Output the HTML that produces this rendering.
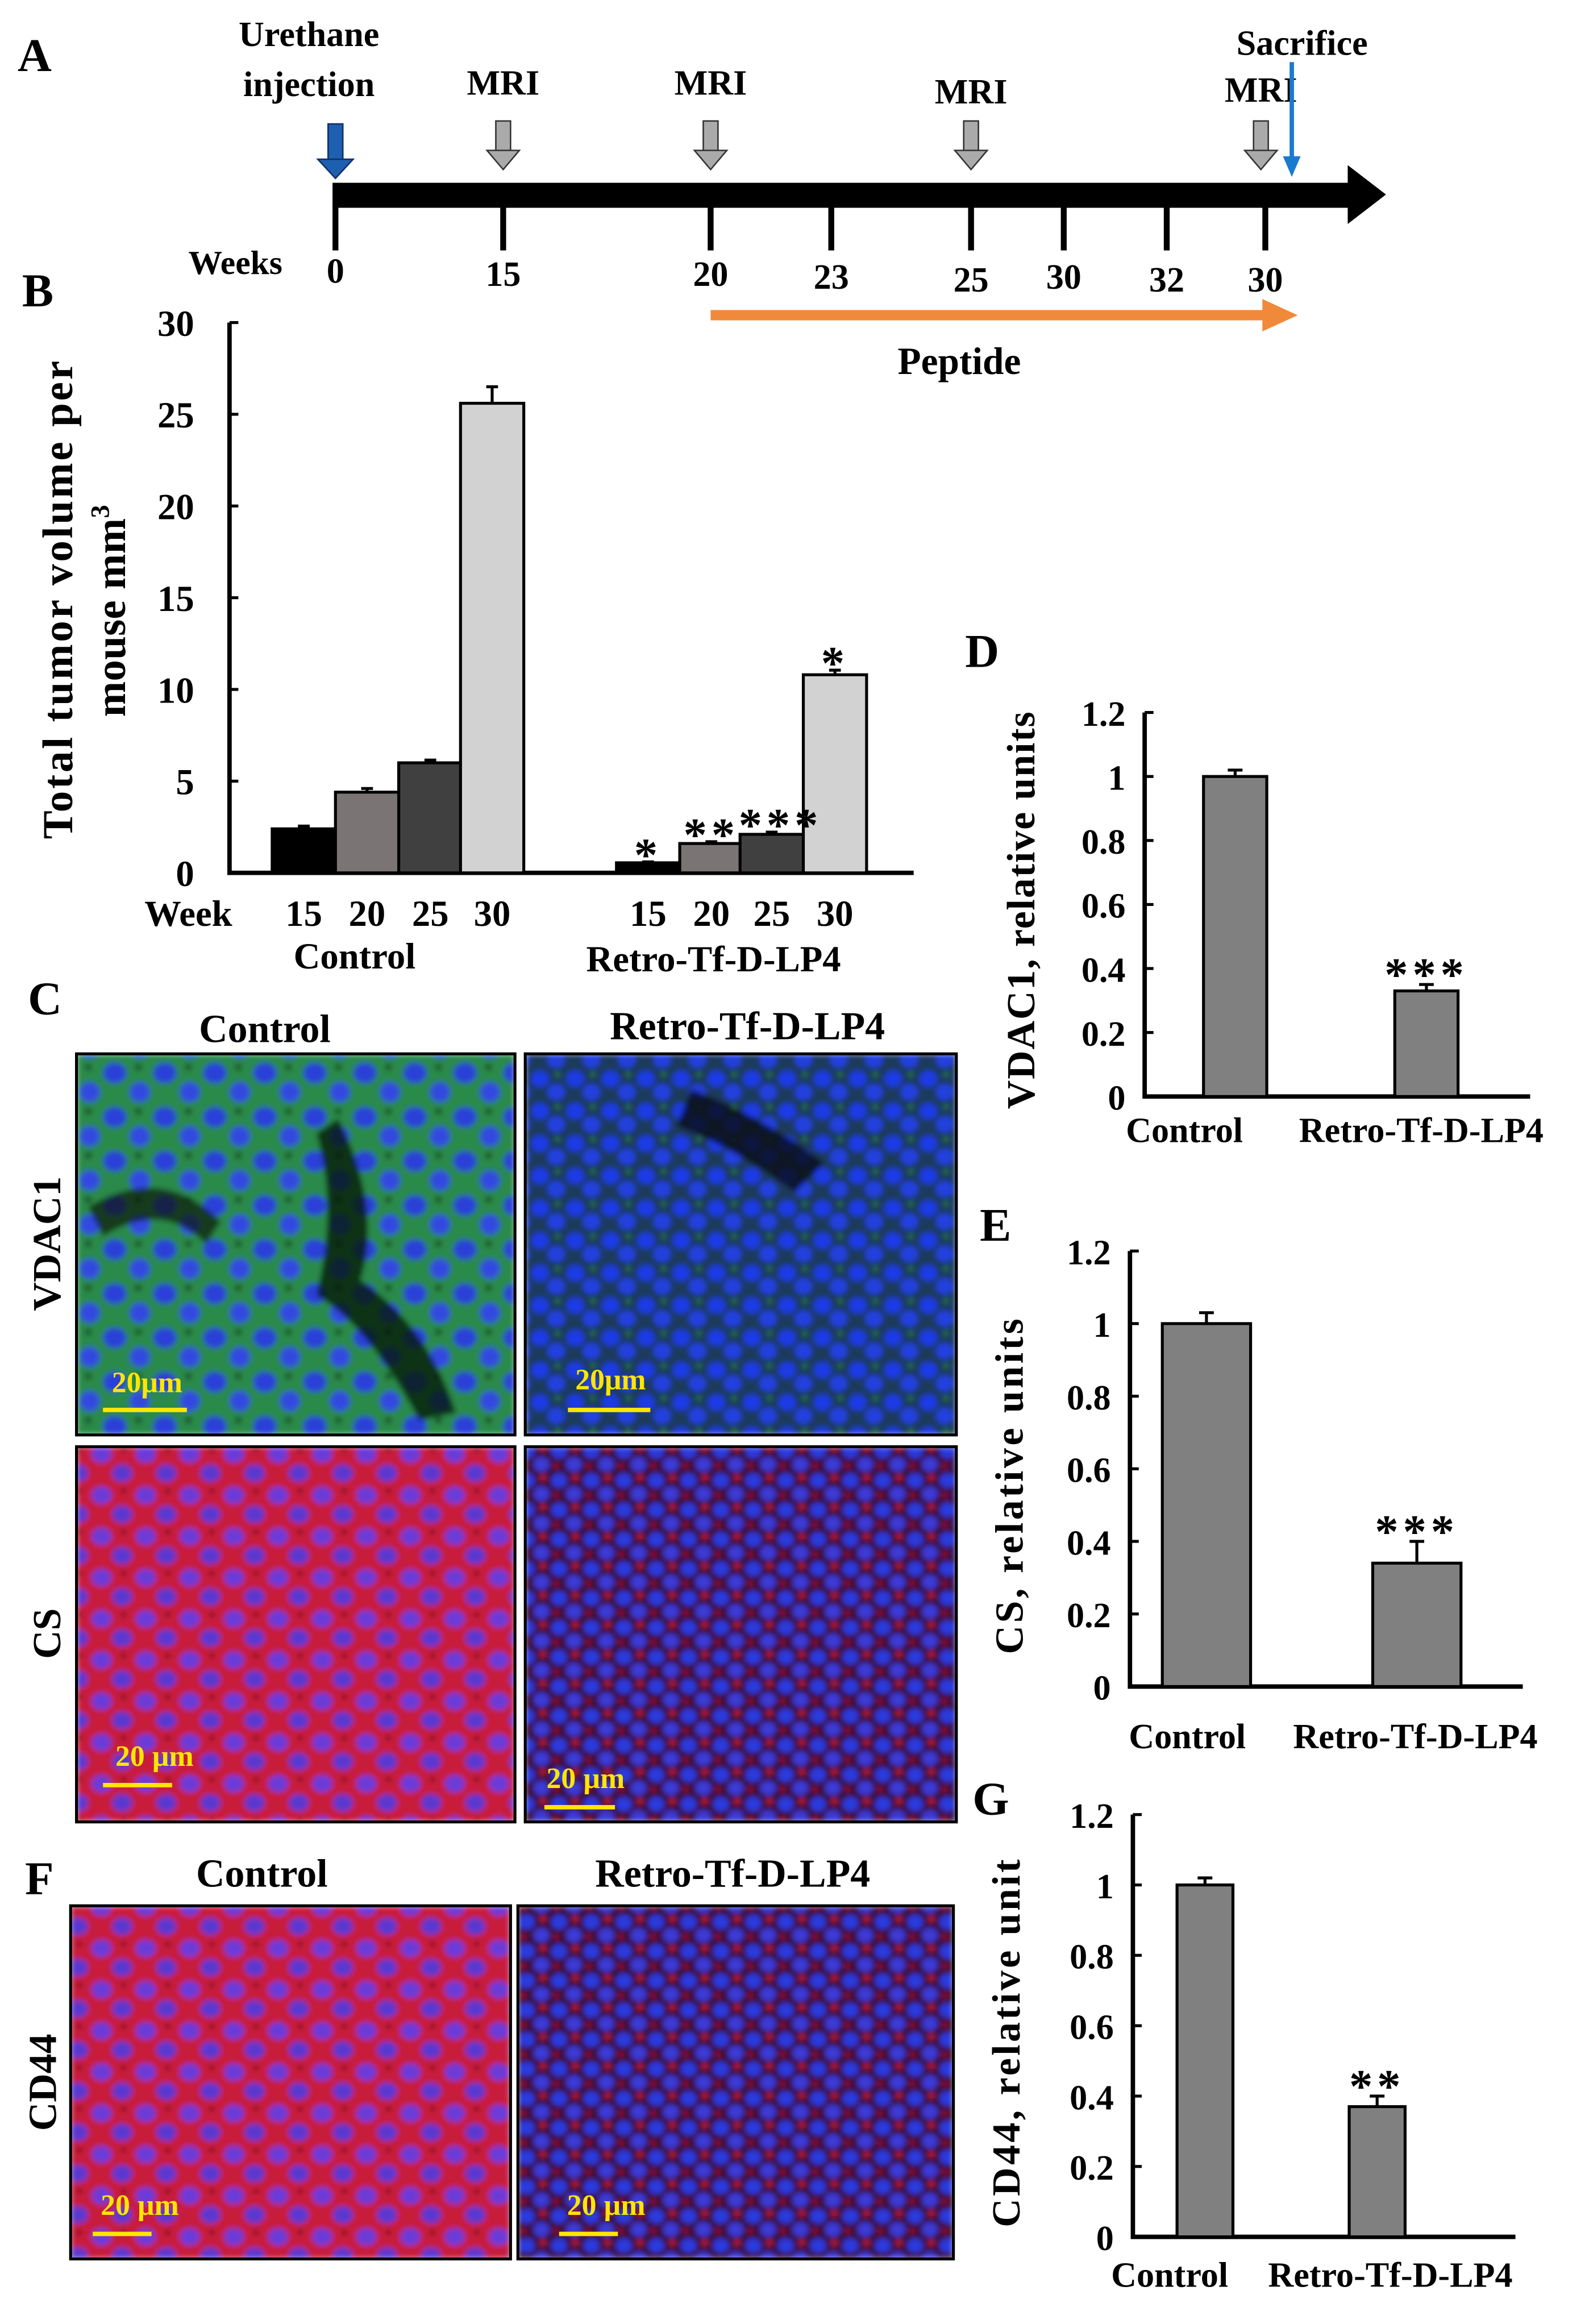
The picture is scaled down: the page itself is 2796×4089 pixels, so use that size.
<!DOCTYPE html>
<html><head><meta charset="utf-8">
<style>
html,body{margin:0;padding:0;background:#fff;}
svg{display:block;}
text{font-family:"Liberation Serif",serif;font-weight:bold;fill:#000;}
</style></head>
<body>
<svg id="fig" width="2796" height="4089" viewBox="0 0 1080 1579" xmlns="http://www.w3.org/2000/svg">
<defs>
<filter id="soft" x="0" y="0" width="1" height="1"><feGaussianBlur stdDeviation="1.8"/></filter>
<pattern id="pGreen" width="34" height="30" patternUnits="userSpaceOnUse">
<rect width="34" height="30" fill="#2a8a4a"/>
<ellipse cx="10" cy="9" rx="8" ry="7" fill="#2a3fd8"/>
<ellipse cx="27" cy="22" rx="7" ry="7" fill="#3048e0"/>
<circle cx="26" cy="5" r="2" fill="#0a2a10"/>
</pattern>
<pattern id="pBlue" width="24" height="22" patternUnits="userSpaceOnUse">
<rect width="24" height="22" fill="#1a3a5a"/>
<ellipse cx="7" cy="7" rx="6" ry="5.5" fill="#1f3be8"/>
<ellipse cx="18" cy="16" rx="6" ry="5.5" fill="#2340e0"/>
<circle cx="19" cy="4" r="1.5" fill="#2a8a3a"/>
</pattern>
<pattern id="pRed" width="30" height="28" patternUnits="userSpaceOnUse">
<rect width="30" height="28" fill="#c81a3a"/>
<ellipse cx="9" cy="8" rx="7" ry="6" fill="#6a3ad8"/>
<ellipse cx="23" cy="21" rx="7" ry="6" fill="#5a38d0"/>
<circle cx="24" cy="5" r="1.5" fill="#300"/>
</pattern>
<pattern id="pRedBlue" width="22" height="20" patternUnits="userSpaceOnUse">
<rect width="22" height="20" fill="#3a0a30"/>
<ellipse cx="6" cy="6" rx="5.5" ry="5" fill="#2a3ae0"/>
<ellipse cx="16" cy="15" rx="5.5" ry="5" fill="#3a3ad8"/>
<circle cx="17" cy="4" r="2" fill="#d01a40"/>
<circle cx="4" cy="16" r="1.5" fill="#c0103a"/>
</pattern>
</defs>

<!-- Panel A -->
<g>
<text x="12" y="48" font-size="32">A</text>
<rect x="226" y="124" width="692" height="17" fill="#000"/>
<polygon points="916,112 942,132 916,152" fill="#000"/>
<text x="160" y="186" font-size="23" text-anchor="middle">Weeks</text>
<g id="timeTicks"></g>
<text x="210" y="31" font-size="24" text-anchor="middle">Urethane</text>
<text x="210" y="65" font-size="24" text-anchor="middle">injection</text>
<g>
<rect x="223" y="84" width="10" height="26" fill="#1f5fb0" stroke="#10306a" stroke-width="1"/>
<polygon points="216,108 240,108 228,121" fill="#1f5fb0" stroke="#10306a" stroke-width="1"/>
</g>
<g id="mriArrows"></g>
<text x="885" y="37" font-size="24" text-anchor="middle">Sacrifice</text>
<line x1="878" y1="42" x2="878" y2="108" stroke="#1a7ad0" stroke-width="3"/>
<polygon points="872,106 884,106 878,120" fill="#1a7ad0"/>
<line x1="483" y1="214" x2="862" y2="214" stroke="#f08a3a" stroke-width="7"/>
<polygon points="858,203 882,214 858,225" fill="#f08a3a"/>
<text x="652" y="254" font-size="26" text-anchor="middle">Peptide</text>
</g>

<!-- Panel B -->
<text x="15" y="208" font-size="32">B</text>
<g id="chartB"></g>

<!-- Panel D / E / G -->
<text x="656" y="453" font-size="32">D</text>
<g id="chartD"></g>
<text x="666" y="843" font-size="32">E</text>
<g id="chartE"></g>
<text x="661" y="1233" font-size="32">G</text>
<g id="chartG"></g>

<!-- Panel C -->
<text x="19" y="689" font-size="32">C</text>
<text x="180" y="708" font-size="27" text-anchor="middle">Control</text>
<text x="508" y="706" font-size="27" text-anchor="middle">Retro-Tf-D-LP4</text>
<text transform="translate(41,845) rotate(-90)" font-size="27" text-anchor="middle">VDAC1</text>
<text transform="translate(41,1110) rotate(-90)" font-size="27" text-anchor="middle">CS</text>
<g>
<g filter="url(#soft)">
<rect x="52" y="716" width="298" height="259" fill="url(#pGreen)"/>
<path d="M230,760 Q260,820 245,870 Q290,900 310,960 L285,965 Q250,900 215,880 Q230,820 215,770Z" fill="#0a1a0a" opacity="0.8"/>
<path d="M60,820 Q110,790 150,830 L140,845 Q110,815 70,840Z" fill="#0a1a0a" opacity="0.7"/>
</g>
<rect x="52" y="716" width="298" height="259" fill="none" stroke="#000" stroke-width="2"/>
<line x1="70" y1="958" x2="127" y2="958" stroke="#ffe600" stroke-width="3"/>
<text x="100" y="946" font-size="20" style="fill:#ffe600" text-anchor="middle">20μm</text>
</g>
<g>
<g filter="url(#soft)">
<rect x="357" y="716" width="293" height="259" fill="url(#pBlue)"/>
<path d="M470,740 Q520,760 560,790 L540,810 Q500,780 460,765Z" fill="#050a15" opacity="0.8"/>
</g>
<rect x="357" y="716" width="293" height="259" fill="none" stroke="#000" stroke-width="2"/>
<line x1="386" y1="958" x2="442" y2="958" stroke="#ffe600" stroke-width="3"/>
<text x="415" y="944" font-size="20" style="fill:#ffe600" text-anchor="middle">20μm</text>
</g>
<g>
<rect x="52" y="983" width="298" height="255" fill="url(#pRed)" filter="url(#soft)"/>
<rect x="52" y="983" width="298" height="255" fill="none" stroke="#000" stroke-width="2"/>
<line x1="70" y1="1213" x2="117" y2="1213" stroke="#ffe600" stroke-width="3"/>
<text x="105" y="1200" font-size="20" style="fill:#ffe600" text-anchor="middle">20 µm</text>
</g>
<g>
<rect x="357" y="983" width="293" height="255" fill="url(#pRedBlue)" filter="url(#soft)"/>
<rect x="357" y="983" width="293" height="255" fill="none" stroke="#000" stroke-width="2"/>
<line x1="370" y1="1228" x2="418" y2="1228" stroke="#ffe600" stroke-width="3"/>
<text x="398" y="1215" font-size="20" style="fill:#ffe600" text-anchor="middle">20 µm</text>
</g>

<!-- Panel F -->
<text x="17" y="1287" font-size="32">F</text>
<text x="178" y="1282" font-size="27" text-anchor="middle">Control</text>
<text x="498" y="1282" font-size="27" text-anchor="middle">Retro-Tf-D-LP4</text>
<text transform="translate(38,1415) rotate(-90)" font-size="27" text-anchor="middle">CD44</text>
<g>
<rect x="48" y="1295" width="299" height="240" fill="url(#pRed)" filter="url(#soft)"/>
<rect x="48" y="1295" width="299" height="240" fill="none" stroke="#000" stroke-width="2"/>
<line x1="63" y1="1518" x2="103" y2="1518" stroke="#ffe600" stroke-width="3"/>
<text x="95" y="1505" font-size="20" style="fill:#ffe600" text-anchor="middle">20 µm</text>
</g>
<g>
<rect x="352" y="1295" width="296" height="240" fill="url(#pRedBlue)" filter="url(#soft)"/>
<rect x="352" y="1295" width="296" height="240" fill="none" stroke="#000" stroke-width="2"/>
<line x1="380" y1="1518" x2="420" y2="1518" stroke="#ffe600" stroke-width="3"/>
<text x="412" y="1505" font-size="20" style="fill:#ffe600" text-anchor="middle">20 µm</text>
</g>
</svg>

<script>
const NS = "http://www.w3.org/2000/svg";
// Timeline data
const tickWeeks = ["0","15","20","23","25","30","32","30"];
const tickPos = [228,342,483,565,660,723,793,860];
const tickLabelY = [192,194,194,196,198,196,198,198];
const mriLabels = ["MRI","MRI","MRI","MRI"];
const mriIndex = [1,2,4,7];

// Panel B data
const bWeeks = ["15","20","25","30"];
const bControl = [2.4, 4.4, 6.0, 25.6];
const bControlErr = [0.15, 0.2, 0.15, 0.9];
const bRetro = [0.55, 1.6, 2.1, 10.8];
const bRetroErr = [0.05, 0.1, 0.12, 0.25];
const bStars = ["*","**","***","*"];
const bTicks = [0,5,10,15,20,25,30];

// Panels D, E, G data
const dValues = [1.0, 0.33];
const dErr = [0.02, 0.02];
const eValues = [1.0, 0.34];
const eErr = [0.03, 0.06];
const gValues = [1.0, 0.37];
const gErr = [0.02, 0.03];
const relTicks = [0,0.2,0.4,0.6,0.8,1,1.2];
const relCats = ["Control","Retro-Tf-D-LP4"];

function mk(parent, tag, attrs, txt){
  const e = document.createElementNS(NS, tag);
  for (const k in attrs) e.setAttribute(k, attrs[k]);
  if (txt !== undefined) e.textContent = txt;
  parent.appendChild(e);
  return e;
}

// timeline ticks
const tt = document.getElementById("timeTicks");
tickWeeks.forEach((w,i)=>{
  const l = mk(tt,"line",{x1:tickPos[i],y1:140,x2:tickPos[i],y2:170,stroke:"#000","stroke-width":4});
  
  
  const t = mk(tt,"text",{x:tickPos[i],y:tickLabelY[i],"font-size":24,"text-anchor":"middle"}, w);
  
  
});
const ma = document.getElementById("mriArrows");
const mriLabelY = [64,64,70,69];
mriIndex.forEach((ix,i)=>{
  const x = tickPos[ix] - (ix===7?3:0);
  const g = mk(ma,"g",{});
  
  
  mk(g,"rect",{x:x-5,y:82,width:10,height:22,fill:"#aaa",stroke:"#333","stroke-width":1});
  mk(g,"polygon",{points:`${x-11},102 ${x+11},102 ${x},115`,fill:"#aaa",stroke:"#333","stroke-width":1});
  const t = mk(ma,"text",{x:x,y:mriLabelY[i],"font-size":24,"text-anchor":"middle"}, mriLabels[i]);
  
  
});

// Chart B
(function(){
  const g = document.getElementById("chartB");
  const x0 = 156, y0 = 593, yTop = 219, vmax = 30;
  const ys = v => y0 - v/vmax*(y0-yTop);
  const bw = 43;
  const ctrlX = [185,228,271,313];
  const retroX = [419,462,503,546];
  const fills = ["#000","#7a7574","#404040","#d2d2d2"];
  const ax = mk(g,"path",{d:`M${x0} ${yTop} V${y0} H621`,stroke:"#000","stroke-width":3,fill:"none"});
  
  
  bTicks.forEach(v=>{
    mk(g,"line",{x1:x0,y1:ys(v),x2:x0+6,y2:ys(v),stroke:"#000","stroke-width":2});
    const t = mk(g,"text",{x:132,y:ys(v)+9,"font-size":25,"text-anchor":"end"}, v);
    
    
  });
  function bars(xs, vals, errs, group){
    vals.forEach((v,i)=>{
      const x = xs[i];
      mk(g,"line",{x1:x+bw/2,y1:ys(v),x2:x+bw/2,y2:ys(v+errs[i]),stroke:"#000","stroke-width":2});
      mk(g,"line",{x1:x+bw/2-4,y1:ys(v+errs[i]),x2:x+bw/2+4,y2:ys(v+errs[i]),stroke:"#000","stroke-width":2});
      const r = mk(g,"rect",{x:x,y:ys(v),width:bw,height:y0-ys(v),fill:fills[i],stroke:"#000","stroke-width":2});
      
      
      const t = mk(g,"text",{x:x+bw/2,y:629,"font-size":25,"text-anchor":"middle"}, bWeeks[i]);
      
      
    });
  }
  bars(ctrlX, bControl, bControlErr, "control");
  bars(retroX, bRetro, bRetroErr, "retro");
  bRetro.forEach((v,i)=>{
    const t = mk(g,"text",{x:retroX[i]+bw/2+(i===2?6:0),y:ys(v+bRetroErr[i])+6,"font-size":32,"text-anchor":"middle","letter-spacing":"3"}, bStars[i]);
    
    
  });
  const w = mk(g,"text",{x:128,y:629,"font-size":25,"text-anchor":"middle"},"Week");
  
  
  const c = mk(g,"text",{x:241,y:658,"font-size":25,"text-anchor":"middle"},"Control");
  
  
  const r = mk(g,"text",{x:485,y:660,"font-size":25,"text-anchor":"middle"},"Retro-Tf-D-LP4");
  
  
  const yt = mk(g,"text",{transform:"translate(49,570) rotate(-90)","font-size":29,"text-anchor":"start",textLength:325,lengthAdjust:"spacing"},"Total tumor  volume per");
  
  
  const yt2 = mk(g,"text",{transform:"translate(85,487) rotate(-90)","font-size":29,"text-anchor":"start"});
  
  
  yt2.innerHTML = '<tspan textLength="135" lengthAdjust="spacing">mouse mm</tspan><tspan dy="-11" font-size="18">3</tspan>';
})();

// Relative charts
function relChart(id, vals, errs, cfg, stars, title){
  const g = document.getElementById(id);
  const ys = v => cfg.y0 - v/1.2*(cfg.y0-cfg.yTop);
  const ax = mk(g,"path",{d:`M${cfg.x0} ${cfg.yTop} V${cfg.y0} H${cfg.xEnd}`,stroke:"#000","stroke-width":3,fill:"none"});
  
  
  relTicks.forEach(v=>{
    mk(g,"line",{x1:cfg.x0,y1:ys(v),x2:cfg.x0+6,y2:ys(v),stroke:"#000","stroke-width":2});
    const t = mk(g,"text",{x:cfg.x0-13,y:ys(v)+9,"font-size":24,"text-anchor":"end"}, String(v));
    
    
  });
  vals.forEach((v,i)=>{
    const x = cfg.bx[i], bw = cfg.bw;
    mk(g,"line",{x1:x+bw/2,y1:ys(v),x2:x+bw/2,y2:ys(v+errs[i]),stroke:"#000","stroke-width":2});
    mk(g,"line",{x1:x+bw/2-5,y1:ys(v+errs[i]),x2:x+bw/2+5,y2:ys(v+errs[i]),stroke:"#000","stroke-width":2});
    const r = mk(g,"rect",{x:x,y:ys(v),width:bw,height:cfg.y0-ys(v),fill:"#808080",stroke:"#000","stroke-width":2});
    
    
    const t = mk(g,"text",{x:cfg.lx[i],y:cfg.ly,"font-size":24,"text-anchor":"middle"}, relCats[i]);
    
    
  });
  const s = mk(g,"text",{x:cfg.bx[1]+cfg.bw/2,y:ys(vals[1]+errs[1])+4,"font-size":32,"text-anchor":"middle","letter-spacing":"3"}, stars);
  
  
  const yt = mk(g,"text",{transform:`translate(${cfg.tx},${(cfg.y0+cfg.yTop)/2+cfg.tdy}) rotate(-90)`,"font-size":27,"text-anchor":"middle",textLength:cfg.tl,lengthAdjust:"spacing"}, title);
  
  
}
relChart("chartD", dValues, dErr, {x0:778,y0:745,yTop:484,xEnd:1040,bx:[818,948],bw:43,lx:[805,966],ly:776,tx:703,tdy:4,tl:270}, "***", "VDAC1, relative units");
relChart("chartE", eValues, eErr, {x0:768,y0:1146,yTop:850,xEnd:1035,bx:[790,933],bw:60,lx:[807,962],ly:1188,tx:695,tdy:12,tl:228}, "***", "CS, relative units");
relChart("chartG", gValues, gErr, {x0:770,y0:1520,yTop:1233,xEnd:1030,bx:[800,917],bw:38,lx:[795,945],ly:1554,tx:693,tdy:12,tl:250}, "**", "CD44, relative unit");
</script>
</body></html>
